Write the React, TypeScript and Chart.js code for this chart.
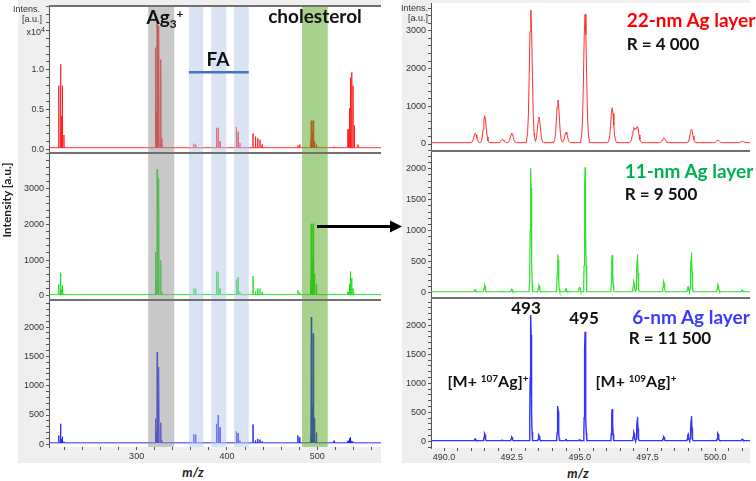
import React, { useEffect, useRef } from "react";
import { Chart, registerables } from "chart.js";
Chart.register(...registerables);

// ---------------- data ----------------
// Overview spectra (m/z 203–570): peak positions shared by the three layers
const LEFT_MZ = [213.8, 215.8, 216.8, 217.8, 219.5, 320.7, 321.7, 322.7, 323.7, 324.7, 326.7, 328.0, 363.3, 365.3, 388.3, 390.3, 392.3, 410.3, 412.3, 414.3, 428.8, 431.5, 434.0, 436.5, 439.0, 478.5, 480.5, 492.3, 493.3, 494.3, 495.3, 496.3, 497.2, 499.1, 518.5, 534.0, 535.5, 536.6, 538.0, 539.5, 541.0, 545.0];
// 22-nm layer, intensity in units of 10^4
const LEFT_22NM = [0.78, 1.05, 0.40, 0.78, 0.16, 1.26, 0.45, 1.58, 1.20, 1.53, 1.11, 0.12, 0.05, 0.04, 0.25, 0.25, 0.08, 0.26, 0.20, 0.06, 0.18, 0.14, 0.12, 0.10, 0.04, 0.03, 0.04, 0.08, 0.34, 0.18, 0.34, 0.12, 0.08, 0.04, 0.01, 0.23, 0.50, 0.88, 0.95, 0.78, 0.28, 0.04];
const LEFT_11NM = [290, 610, 150, 260, 30, 1190, 380, 3520, 2630, 3270, 970, 80, 170, 170, 650, 620, 170, 420, 490, 80, 520, 80, 170, 170, 60, 120, 60, 370, 1990, 1020, 1990, 590, 590, 280, 20, 80, 290, 650, 470, 180, 30, 0];
const LEFT_6NM = [125, 325, 60, 105, 20, 415, 200, 1545, 775, 1295, 345, 40, 145, 145, 325, 475, 265, 195, 165, 40, 315, 40, 65, 55, 20, 125, 95, 75, 2145, 615, 1865, 425, 425, 175, 35, 35, 75, 95, 35, 20, 0, 0];
const LEFT_BASE = { nm22: 0.02, nm11: 30, nm6: 25 };

// Zoomed spectra (m/z 489.5–501.3)
const RIGHT_MZ = [491.15, 491.5, 492.15, 492.5, 493.2, 493.5, 494.2, 494.5, 495.0, 495.2, 496.2, 497.0, 497.13, 498.1, 499.0, 499.12, 500.1, 501.0];
const RIGHT_22NM = [248, 715, 89, 257, 3519, 681, 1132, 275, 0, 3405, 928, 381, 408, 132, 0, 355, 71, 40];
const RIGHT_11NM = [33, 108, 5, 39, 1990, 108, 603, 49, 81, 2006, 592, 162, 603, 162, 81, 629, 114, 33];
const RIGHT_6NM = [28, 119, 5, 62, 2166, 97, 597, 18, 18, 1878, 545, 140, 412, 68, 108, 424, 126, 28];
const RIGHT_BASE = { nm22: 35, nm11: 16, nm6: 12 };

// Highlight bands (m/z)
const BAND_AG3 = [312.8, 341.6];
const BAND_FA = [[357.9, 373.8], [382.6, 399.2], [407.8, 424.1]];
const BAND_CHOL = [483.1, 511.5];
const FA_LINE_Y = 0.97; // ×10^4, top panel

// Axis ticks
const LT_TICKS = [0, 0.5, 1.0];
const LM_TICKS = [0, 1000, 2000, 3000];
const LB_TICKS = [0, 500, 1000, 1500, 2000];
const RT_TICKS = [0, 1000, 2000, 3000];
const RM_TICKS = [0, 500, 1000, 1500, 2000];
const RB_TICKS = [0, 500, 1000, 1500, 2000];
const LEFT_X_TICKS = [300, 400, 500];
const RIGHT_X_TICKS = [490.0, 492.5, 495.0, 497.5, 500.0];

// ---------------- helpers ----------------
type Shape = [number, number][];
const SHAPE_STICK: Shape = [[-1, 0], [0, 1], [1, 0]];
const SHAPE_PEAK: Shape = [[-1.4, 0], [-1, 0.07], [-0.75, 0.21], [-0.5, 0.5], [-0.25, 0.84], [0, 1], [0.25, 0.84], [0.5, 0.5], [0.75, 0.21], [1, 0.07], [1.4, 0]];

function buildProfile(mz: number[], h: number[], base: number, width: number, shape: Shape, xMin: number, xMax: number) {
  const xs = new Set<number>([xMin, xMax]);
  mz.forEach((m, i) => {
    if (h[i] > 0) shape.forEach(([d]) => xs.add(+(m + d * width).toFixed(5)));
  });
  const sorted = [...xs].sort((a, b) => a - b);
  const interp = (t: number) => {
    if (t <= shape[0][0] || t >= shape[shape.length - 1][0]) return 0;
    for (let k = 1; k < shape.length; k++) {
      if (t <= shape[k][0]) {
        const [x0, y0] = shape[k - 1];
        const [x1, y1] = shape[k];
        return y0 + ((y1 - y0) * (t - x0)) / (x1 - x0);
      }
    }
    return 0;
  };
  return sorted.map((x) => ({ x, y: base + mz.reduce((s, m, i) => s + h[i] * interp((x - m) / width), 0) }));
}

function tickList(min: number, max: number, step: number) {
  const out: number[] = [];
  for (let i = Math.ceil(min / step - 1e-9); i * step <= max + 1e-9; i++) out.push(+(i * step).toFixed(6));
  return out;
}

const TICK_FONT = { family: "'Liberation Sans', Arial, sans-serif", size: 9 };
const AXIS_COLOR = "#555";
const SEP_COLOR = "#707070";

type Spec = {
  left: number; top: number; width: number; height: number;
  padTop: number; yAxisW: number; xAxisH: number;
  xMin: number; xMax: number; yMin: number; yMax: number;
  yMajor: number[]; yMinorStep: number; yFmt: (v: number) => string;
  xMajor?: number[]; xMinorStep?: number; xFmt?: (v: number) => string;
  points: { x: number; y: number }[]; color: string; lineWidth: number;
  topLine: boolean; bands?: boolean; faLine?: boolean;
};

function Panel({ spec }: { spec: Spec }) {
  const ref = useRef<HTMLCanvasElement | null>(null);
  useEffect(() => {
    if (!ref.current) return;
    const s = spec;
    const isMajor = (list: number[], v: number) => list.some((m) => Math.abs(m - v) < 1e-6);
    const yVals = tickList(s.yMin, s.yMax, s.yMinorStep);
    const xVals = s.xMajor ? tickList(s.xMin, s.xMax, s.xMinorStep!) : [];
    const zeroPad = (sc: any) => { sc.paddingTop = 0; sc.paddingBottom = 0; sc.paddingLeft = 0; sc.paddingRight = 0; };

    const deco = {
      id: "deco",
      beforeDraw(chart: any) {
        const { ctx, chartArea: a } = chart;
        ctx.save();
        ctx.fillStyle = "#ffffff";
        ctx.fillRect(a.left, a.top, a.right - a.left, a.bottom - a.top);
        ctx.restore();
      },
      afterDatasetsDraw(chart: any) {
        const { ctx, chartArea: a } = chart;
        const xs = chart.scales.x;
        const ys = chart.scales.y;
        ctx.save();
        if (s.bands) {
          const band = (r: number[], c: string) => {
            const x0 = xs.getPixelForValue(r[0]);
            const x1 = xs.getPixelForValue(r[1]);
            ctx.fillStyle = c;
            ctx.fillRect(x0, a.top, x1 - x0, a.bottom - a.top);
          };
          band(BAND_AG3, "rgba(145,145,145,0.5)");
          BAND_FA.forEach((r) => band(r, "rgba(181,199,231,0.5)"));
          band(BAND_CHOL, "rgba(83,163,29,0.5)");
        }
        if (s.faLine) {
          const y = ys.getPixelForValue(FA_LINE_Y);
          ctx.strokeStyle = "#4472c4";
          ctx.lineWidth = 2.5;
          ctx.beginPath();
          ctx.moveTo(xs.getPixelForValue(BAND_FA[0][0]), y);
          ctx.lineTo(xs.getPixelForValue(BAND_FA[2][1]), y);
          ctx.stroke();
        }
        if (s.topLine) {
          ctx.fillStyle = SEP_COLOR;
          ctx.fillRect(a.left, a.top, a.right - a.left, 2);
        }
        ctx.restore();
      },
    };

    const chart = new Chart(ref.current, {
      type: "line",
      data: {
        datasets: [{
          data: s.points,
          borderColor: s.color,
          borderWidth: s.lineWidth,
          pointRadius: 0,
          tension: 0,
          fill: false,
        }],
      },
      options: {
        animation: false,
        responsive: false,
        maintainAspectRatio: false,
        events: [],
        layout: { padding: { top: s.padTop, left: 0, right: 0, bottom: 0 } },
        plugins: { legend: { display: false }, tooltip: { enabled: false } },
        scales: {
          x: {
            type: "linear",
            display: !!s.xMajor,
            min: s.xMin,
            max: s.xMax,
            bounds: "data",
            afterFit: (sc: any) => { sc.height = s.xAxisH; zeroPad(sc); },
            afterBuildTicks: (ax: any) => { ax.ticks = xVals.map((v) => ({ value: v })); },
            ticks: {
              autoSkip: false, maxRotation: 0, minRotation: 0, padding: 1,
              font: TICK_FONT, color: "#333",
              callback: (v: any) => (s.xMajor && isMajor(s.xMajor, Number(v)) ? s.xFmt!(Number(v)) : ""),
            },
            grid: { drawOnChartArea: false, drawTicks: true, tickLength: 3, color: AXIS_COLOR },
            border: { display: false },
          },
          y: {
            type: "linear",
            min: s.yMin,
            max: s.yMax,
            bounds: "data",
            afterFit: (sc: any) => { sc.width = s.yAxisW; zeroPad(sc); },
            afterBuildTicks: (ax: any) => { ax.ticks = yVals.map((v) => ({ value: v })); },
            ticks: {
              autoSkip: false, padding: 2, font: TICK_FONT, color: "#333",
              callback: (v: any) => (isMajor(s.yMajor, Number(v)) ? s.yFmt(Number(v)) : ""),
            },
            grid: { drawOnChartArea: false, drawTicks: true, tickLength: 3, color: AXIS_COLOR },
            border: { display: true, color: AXIS_COLOR, width: 1 },
          },
        },
      } as any,
      plugins: [deco],
    });
    return () => chart.destroy();
  }, [spec]);
  return (
    <canvas
      ref={ref}
      width={spec.width}
      height={spec.height}
      style={{ position: "absolute", left: spec.left, top: spec.top, width: spec.width, height: spec.height }}
    />
  );
}

// ---------------- layout ----------------
const LX = [203, 570.5];
const RX = [489.52, 501.28];

const fmt0 = (v: number) => String(Math.round(v));
const fmt1 = (v: number) => v.toFixed(1);

const SPECS: Spec[] = [
  {
    left: 18, top: 0, width: 363, height: 152, padTop: 5, yAxisW: 31, xAxisH: 0,
    xMin: LX[0], xMax: LX[1], yMin: -0.034, yMax: 1.817, yMajor: LT_TICKS, yMinorStep: 0.1, yFmt: fmt1,
    points: buildProfile(LEFT_MZ, LEFT_22NM, LEFT_BASE.nm22, 0.3, SHAPE_STICK, LX[0], LX[1]),
    color: "rgba(255,30,30,0.9)", lineWidth: 1, topLine: true, bands: true, faLine: true,
  },
  {
    left: 18, top: 152, width: 363, height: 147, padTop: 0, yAxisW: 31, xAxisH: 0,
    xMin: LX[0], xMax: LX[1], yMin: -93, yMax: 4037, yMajor: LM_TICKS, yMinorStep: 200, yFmt: fmt0,
    points: buildProfile(LEFT_MZ, LEFT_11NM, LEFT_BASE.nm11, 0.3, SHAPE_STICK, LX[0], LX[1]),
    color: "rgba(20,225,20,0.9)", lineWidth: 1, topLine: true, bands: true,
  },
  {
    left: 18, top: 299, width: 363, height: 164, padTop: 0, yAxisW: 31, xAxisH: 16,
    xMin: LX[0], xMax: LX[1], yMin: -46, yMax: 2480, yMajor: LB_TICKS, yMinorStep: 100, yFmt: fmt0,
    xMajor: LEFT_X_TICKS, xMinorStep: 20, xFmt: fmt0,
    points: buildProfile(LEFT_MZ, LEFT_6NM, LEFT_BASE.nm6, 0.3, SHAPE_STICK, LX[0], LX[1]),
    color: "rgba(25,25,255,0.9)", lineWidth: 1, topLine: true, bands: true,
  },
  {
    left: 402, top: 0, width: 348, height: 150, padTop: 3, yAxisW: 29, xAxisH: 0,
    xMin: RX[0], xMax: RX[1], yMin: -159, yMax: 3740, yMajor: RT_TICKS, yMinorStep: 200, yFmt: fmt0,
    points: buildProfile(RIGHT_MZ, RIGHT_22NM, RIGHT_BASE.nm22, 0.12, SHAPE_PEAK, RX[0], RX[1]),
    color: "#ff3030", lineWidth: 1, topLine: false,
  },
  {
    left: 402, top: 150, width: 348, height: 147, padTop: 0, yAxisW: 29, xAxisH: 0,
    xMin: RX[0], xMax: RX[1], yMin: -69, yMax: 2302, yMajor: RM_TICKS, yMinorStep: 100, yFmt: fmt0,
    points: buildProfile(RIGHT_MZ, RIGHT_11NM, RIGHT_BASE.nm11, 0.05, SHAPE_PEAK, RX[0], RX[1]),
    color: "#30e030", lineWidth: 1.2, topLine: true,
  },
  {
    left: 402, top: 297, width: 348, height: 166, padTop: 0, yAxisW: 29, xAxisH: 15,
    xMin: RX[0], xMax: RX[1], yMin: -116, yMax: 2488, yMajor: RB_TICKS, yMinorStep: 100, yFmt: fmt0,
    xMajor: RIGHT_X_TICKS, xMinorStep: 0.5, xFmt: fmt1,
    points: buildProfile(RIGHT_MZ, RIGHT_6NM, RIGHT_BASE.nm6, 0.045, SHAPE_PEAK, RX[0], RX[1]),
    color: "#3333ff", lineWidth: 1.4, topLine: true,
  },
];

const ANN_FONT = "Lato, 'Open Sans', sans-serif";

function T({ x, y, children, style }: { x: number; y: number; children: any; style?: any }) {
  return (
    <div
      style={{
        position: "absolute", left: x, top: y, transform: "translate(-50%, -50%)",
        whiteSpace: "nowrap", lineHeight: 1, fontFamily: ANN_FONT, fontWeight: 700, ...style,
      }}
    >
      {children}
    </div>
  );
}

function R({ right, y, children, style }: { right: number; y: number; children: any; style?: any }) {
  return (
    <div
      style={{
        position: "absolute", right: 756 - right, top: y, transform: "translateY(-50%)",
        whiteSpace: "nowrap", lineHeight: 1, fontFamily: "'Liberation Sans', Arial, sans-serif",
        fontSize: 9, color: "#333", ...style,
      }}
    >
      {children}
    </div>
  );
}

const sup = { fontSize: "0.62em", position: "relative" as const, top: "-0.55em" };
const sub = { fontSize: "0.62em", position: "relative" as const, top: "0.3em" };

export default function App() {
  return (
    <div style={{ position: "absolute", left: 0, top: 0, width: 756, height: 481, background: "#fff", overflow: "hidden" }}>
      <div style={{ position: "absolute", left: 18, top: 0, width: 363, height: 463, background: "#efefef" }} />
      <div style={{ position: "absolute", left: 402, top: 0, width: 348, height: 463, background: "#efefef" }} />
      {SPECS.map((s, i) => (
        <Panel key={i} spec={s} />
      ))}

      {/* axis captions */}
      <R right={40} y={9}>Intens.</R>
      <R right={42} y={19}>[a.u.]</R>
      <R right={45} y={32}>x10<span style={{ fontSize: 7, position: "relative", top: -3 }}>4</span></R>
      <R right={428} y={8}>Intens.</R>
      <R right={428} y={18}>[a.u.]</R>
      <div
        style={{
          position: "absolute", left: 7, top: 200, transform: "translate(-50%, -50%) rotate(-90deg)",
          whiteSpace: "nowrap", fontFamily: ANN_FONT, fontWeight: 700, fontSize: 12, color: "#222", lineHeight: 1,
        }}
      >
        Intensity [a.u.]
      </div>
      <T x={193} y={472} style={{ fontStyle: "italic", fontSize: 13, color: "#222" }}>m/z</T>
      <T x={578} y={473} style={{ fontStyle: "italic", fontSize: 13, color: "#222" }}>m/z</T>

      {/* left annotations */}
      <T x={165} y={16} style={{ fontSize: 19, color: "#111" }}>
        Ag<span style={sub}>3</span><span style={sup}>+</span>
      </T>
      <T x={218} y={58} style={{ fontSize: 19, color: "#111" }}>FA</T>
      <T x={315} y={15} style={{ fontSize: 19, color: "#111" }}>cholesterol</T>

      {/* right annotations */}
      <T x={691} y={19} style={{ fontSize: 19, color: "#ff0000" }}>22-nm Ag layer</T>
      <T x={663} y={43} style={{ fontSize: 17, color: "#111" }}>R = 4 000</T>
      <T x={689} y={170} style={{ fontSize: 19, color: "#00b050" }}>11-nm Ag layer</T>
      <T x={661} y={193} style={{ fontSize: 17, color: "#111" }}>R = 9 500</T>
      <T x={691} y={316} style={{ fontSize: 19, color: "#3b3bff" }}>6-nm Ag layer</T>
      <T x={670} y={337} style={{ fontSize: 17, color: "#111" }}>R = 11 500</T>
      <T x={526} y={307} style={{ fontSize: 17, color: "#111" }}>493</T>
      <T x={584} y={317} style={{ fontSize: 17, color: "#111" }}>495</T>
      <T x={488} y={381} style={{ fontSize: 16, color: "#111" }}>
        [M+ <span style={sup}>107</span>Ag]<span style={sup}>+</span>
      </T>
      <T x={636} y={381} style={{ fontSize: 16, color: "#111" }}>
        [M+ <span style={sup}>109</span>Ag]<span style={sup}>+</span>
      </T>

      {/* arrow */}
      <svg width={756} height={481} style={{ position: "absolute", left: 0, top: 0, pointerEvents: "none" }}>
        <line x1={317} y1={226.5} x2={392} y2={226.5} stroke="#000" strokeWidth={3} />
        <polygon points="402,226.5 390,220.5 390,232.5" fill="#000" />
      </svg>
    </div>
  );
}
